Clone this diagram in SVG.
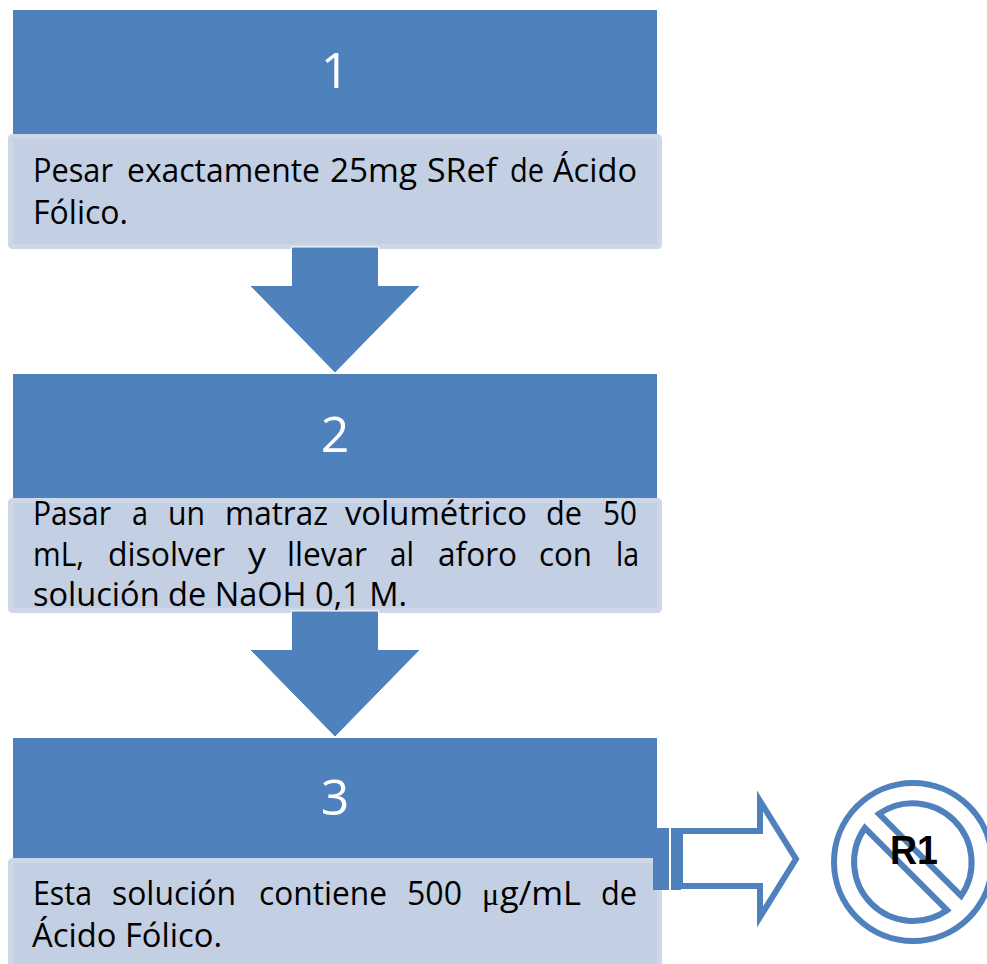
<svg xmlns="http://www.w3.org/2000/svg" width="987" height="964" viewBox="0 0 987 964">
<style>
.head{fill:#4f81bd}
.body{fill:#c3cfe3;stroke:#ced7e8;stroke-width:5}
.arrow{fill:#4f81bd}
.down{stroke:#fff;stroke-width:1;stroke-linejoin:round}
.num{font-family:"Open Sans","Noto Sans",sans-serif;font-size:50px;fill:#fff;text-anchor:middle}
.t{font-family:"Open Sans","Noto Sans",sans-serif;font-size:32px;fill:#000}
.ring{fill:none;stroke:#4f81bd;stroke-width:6}
.mu{font-family:"Liberation Serif",serif}
.r{font-family:"Liberation Sans",Arial,sans-serif;font-weight:bold;font-size:40px;fill:#000;text-anchor:middle}
</style>
<rect width="987" height="964" fill="#fff"/>
<g id="node-1">
<rect class="head" x="13" y="10" width="644" height="124"/>
<text class="num" x="335" y="88">1</text>
<rect class="body" x="10.500" y="136.500" width="649" height="110" rx="2"/>
<text class="t" y="182"><tspan x="33" textLength="80" lengthAdjust="spacingAndGlyphs">Pesar</tspan><tspan x="127" textLength="193" lengthAdjust="spacingAndGlyphs">exactamente</tspan><tspan x="330" textLength="87" lengthAdjust="spacingAndGlyphs">25mg</tspan><tspan x="427" textLength="70" lengthAdjust="spacingAndGlyphs">SRef</tspan><tspan x="510" textLength="34" lengthAdjust="spacingAndGlyphs">de</tspan><tspan x="553" textLength="84" lengthAdjust="spacingAndGlyphs">Ácido</tspan></text>
<text class="t" x="33" y="224" textLength="95" lengthAdjust="spacingAndGlyphs">Fólico.</text>
</g>
<g id="node-2">
<rect class="head" x="13" y="374" width="644" height="124"/>
<text class="num" x="335" y="452">2</text>
<rect class="body" x="10.500" y="500.500" width="649" height="110" rx="2"/>
<text class="t" y="525"><tspan x="33" textLength="78" lengthAdjust="spacingAndGlyphs">Pasar</tspan><tspan x="132" textLength="16" lengthAdjust="spacingAndGlyphs">a</tspan><tspan x="168" textLength="37" lengthAdjust="spacingAndGlyphs">un</tspan><tspan x="225" textLength="103" lengthAdjust="spacingAndGlyphs">matraz</tspan><tspan x="345" textLength="182" lengthAdjust="spacingAndGlyphs">volumétrico</tspan><tspan x="546" textLength="36" lengthAdjust="spacingAndGlyphs">de</tspan><tspan x="603" textLength="34" lengthAdjust="spacingAndGlyphs">50</tspan></text>
<text class="t" y="566"><tspan x="33" textLength="51" lengthAdjust="spacingAndGlyphs">mL,</tspan><tspan x="108" textLength="117" lengthAdjust="spacingAndGlyphs">disolver</tspan><tspan x="248" textLength="18" lengthAdjust="spacingAndGlyphs">y</tspan><tspan x="287" textLength="80" lengthAdjust="spacingAndGlyphs">llevar</tspan><tspan x="390" textLength="24" lengthAdjust="spacingAndGlyphs">al</tspan><tspan x="438" textLength="79" lengthAdjust="spacingAndGlyphs">aforo</tspan><tspan x="539" textLength="53" lengthAdjust="spacingAndGlyphs">con</tspan><tspan x="616" textLength="23" lengthAdjust="spacingAndGlyphs">la</tspan></text>
<text class="t" x="33" y="606" textLength="374" lengthAdjust="spacingAndGlyphs">solución de NaOH 0,1 M.</text>
</g>
<g id="node-3">
<rect class="head" x="13" y="738" width="644" height="124"/>
<text class="num" x="335" y="815">3</text>
<rect class="body" x="10.500" y="860.500" width="649" height="110" rx="2"/>
<text class="t" y="905"><tspan x="33" textLength="59" lengthAdjust="spacingAndGlyphs">Esta</tspan><tspan x="112" textLength="124" lengthAdjust="spacingAndGlyphs">solución</tspan><tspan x="259" textLength="128" lengthAdjust="spacingAndGlyphs">contiene</tspan><tspan x="407" textLength="55" lengthAdjust="spacingAndGlyphs">500</tspan><tspan x="482" class="mu">μ</tspan><tspan x="500" textLength="81" lengthAdjust="spacingAndGlyphs">g/mL</tspan><tspan x="601" textLength="36" lengthAdjust="spacingAndGlyphs">de</tspan></text>
<text class="t" x="32" y="947" textLength="190" lengthAdjust="spacingAndGlyphs">Ácido Fólico.</text>
</g>
<g id="node-r1">
<circle class="ring" cx="913" cy="862" r="79"/>
<path class="ring" d="M864.800 828A59 59 0 0 0 947 910.200Z"/>
<path class="ring" d="M879 813.800A59 59 0 0 1 961.100 895.900Z"/>
<text class="r" x="914" y="864" textLength="48" lengthAdjust="spacingAndGlyphs">R1</text>
</g>
<g id="connectors">
<path class="arrow down" d="M291.500 247H378.500V285.500H420.500L335 373L249.500 285.500H291.500Z"/>
<path class="arrow down" d="M291.500 611H378.500V649.500H420.500L335 737L249.500 649.500H291.500Z"/>
<path class="arrow" d="M653 828H669V890H653ZM671 828H681V890H671Z"/>
<path fill="#fff" stroke="#4f81bd" stroke-width="6" d="M680 831H760V801L796 859L760 917V886H680Z" stroke-miterlimit="10"/>
</g>
</svg>
